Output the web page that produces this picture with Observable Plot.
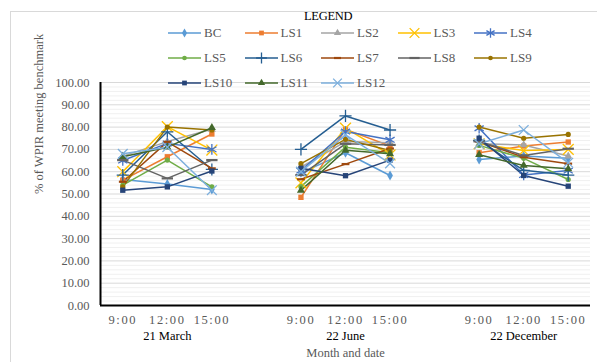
<!DOCTYPE html>
<html><head><meta charset="utf-8">
<script src="https://cdn.jsdelivr.net/npm/d3@7"></script>
<script src="https://cdn.jsdelivr.net/npm/@observablehq/plot@0.6"></script>
<style>
body{margin:0;background:#fff;}
#wrap{position:relative;width:597px;height:362px;overflow:hidden;font-family:"Liberation Serif","Times New Roman",serif;}
#box{position:absolute;left:10px;top:11px;width:700px;height:500px;border-left:1px solid #d9d9d9;border-top:1px solid #d9d9d9;}
#chart{position:absolute;left:0;top:0;}
#chart svg, #chart svg text{font-family:"Liberation Serif","Times New Roman",serif !important;}
#chart g[aria-label="x-axis tick label"] text{letter-spacing:1.6px;}
#ltitle{position:absolute;left:304px;top:9px;font-size:12.5px;color:#000;letter-spacing:-0.3px;}
#legend{position:absolute;left:168px;top:21px;display:grid;grid-template-columns:repeat(5,76.5px);grid-auto-rows:24.7px;}
.item{display:flex;align-items:center;height:24.7px;font-size:13px;color:#595959;font-family:"Liberation Serif","Times New Roman",serif;}
.item svg{flex:none;margin-right:2px;}
</style></head>
<body><div id="wrap"><div id="box"></div><div id="chart"></div><div id="ltitle">LEGEND</div><div id="legend"></div></div>
<script>
// ---- data ----
const dates = ["21 March", "22 June", "22 December"];
const times = ["9:00", "12:00", "15:00"];
const seriesNames = ["BC","LS1","LS2","LS3","LS4","LS5","LS6","LS7","LS8","LS9","LS10","LS11","LS12"];
// values: March 9,12,15 | June 9,12,15 | December 9,12,15
const BC   = [56.5, 54.5, 52.0,  59.5, 68.5, 58.3,  65.5, 67.0, 66.0];
const LS1  = [56.2, 66.7, 76.9,  48.5, 79.0, 71.5,  68.5, 71.5, 73.3];
const LS2  = [67.0, 73.5, 79.0,  62.0, 73.5, 73.0,  72.5, 72.0, 67.0];
const LS3  = [60.0, 80.2, 69.7,  55.0, 79.5, 67.5,  72.5, 69.5, 70.0];
const LS4  = [65.0, 72.7, 70.0,  60.5, 78.0, 74.3,  79.5, 58.5, 60.5];
const LS5  = [54.0, 65.2, 53.2,  53.3, 71.0, 68.5,  71.8, 66.0, 56.5];
const LS6  = [58.5, 77.9, 61.0,  70.0, 85.0, 78.7,  74.0, 60.6, 58.5];
const LS7  = [55.5, 73.4, 61.5,  56.6, 63.4, 70.4,  73.5, 66.5, 63.6];
const LS8  = [65.2, 57.0, 65.2,  58.5, 72.5, 72.0,  73.6, 67.3, 70.3];
const LS9  = [53.2, 80.0, 78.7,  63.6, 74.5, 69.5,  80.0, 75.0, 76.7];
const LS10 = [51.7, 53.2, 60.3,  61.5, 58.2, 65.2,  75.0, 58.3, 53.5];
const LS11 = [66.7, 71.0, 79.7,  51.6, 69.6, 68.0,  67.6, 62.8, 61.3];
const LS12 = [68.0, 71.0, 51.7,  60.0, 76.5, 63.7,  72.5, 78.7, 64.0];
const seriesValues = [BC,LS1,LS2,LS3,LS4,LS5,LS6,LS7,LS8,LS9,LS10,LS11,LS12];
const yTicks = d3.range(0, 101, 10);

// ---- styles ----
const colors = ["#5B9BD5","#ED7D31","#A5A5A5","#FFC000","#4472C4","#70AD47","#255E91","#9E480E","#636363","#997300","#264478","#43682B","#7CAFDD"];
const dashShort = {draw(c, s){const w=Math.sqrt(s)*0.55; c.moveTo(-w,0); c.lineTo(w,0);}};
const dashLong = {draw(c, s){const w=Math.sqrt(s)*0.8; c.moveTo(-w,0); c.lineTo(w,0);}};
const markers = [
  {symbol:"diamond", filled:true, r:3},
  {symbol:"square", filled:true, r:3},
  {symbol:"triangle", filled:true, r:3},
  {symbol:"times", filled:false, r:5},
  {symbol:"asterisk", filled:false, r:5},
  {symbol:"circle", filled:true, r:2.6},
  {symbol:"plus", filled:false, r:4},
  {symbol:dashShort, filled:false, r:4, sw:2.2},
  {symbol:dashLong, filled:false, r:4, sw:2.2},
  {symbol:"circle", filled:true, r:2.6},
  {symbol:"square", filled:true, r:3},
  {symbol:"triangle", filled:true, r:3},
  {symbol:"times", filled:false, r:4.5}
];

// index positions with a spacer between dates
const rows = [];
seriesNames.forEach((s, si) => {
  seriesValues[si].forEach((v, k) => {
    const g = Math.floor(k / 3), t = k % 3;
    rows.push({series: s, si, date: dates[g], time: times[t], i: g * 4 + t, v, key: s + "|" + g});
  });
});

const fontFam = '"Liberation Serif","Times New Roman",serif';
const plot = Plot.plot({
  width: 597, height: 362,
  marginLeft: 100, marginRight: 7, marginTop: 82, marginBottom: 57,
  style: {fontFamily: fontFam, background: "transparent"},
  x: {domain: [-0.5, 10.5], axis: null},
  y: {domain: [0, 100], axis: null},
  color: {domain: seriesNames, range: colors},
  marks: [
    Plot.ruleY(d3.range(0, 101, 2).filter(v => v % 10 !== 0), {stroke: "#f0f0f0", strokeWidth: 1}),
    Plot.ruleY(yTicks, {stroke: "#d9d9d9", strokeWidth: 1}),
    Plot.axisY({ticks: yTicks, tickFormat: d3.format(".2f"), tickSize: 0, tickPadding: 11, fontSize: 12.5, fill: "#595959", label: null}),
    Plot.axisX({ticks: [0,1,2,4,5,6,8,9,10], tickFormat: i => times[i % 4], tickSize: 0, tickPadding: 10, fontSize: 12.5, fill: "#595959", label: null}),
    Plot.text(dates, {x: (d, i) => i * 4 + 1, frameAnchor: "bottom", dy: 30, fontSize: 12.5, fill: "#000", lineAnchor: "middle"}),
    Plot.text(["Month and date"], {frameAnchor: "bottom", dy: 47, fontSize: 12.5, fill: "#595959", lineAnchor: "middle"}),
    Plot.text(["% of WPIR meeting benchmark"], {frameAnchor: "left", dx: -62, rotate: -90, fontSize: 12.5, fill: "#595959"}),
    Plot.line(rows, {x: "i", y: "v", z: "key", stroke: "series", strokeWidth: 1.5}),
    ...seriesNames.map((s, si) => {
      const m = markers[si];
      const data = rows.filter(d => d.si === si);
      return m.filled
        ? Plot.dot(data, {x: "i", y: "v", symbol: () => m.symbol, r: m.r, fill: colors[si], stroke: "none"})
        : Plot.dot(data, {x: "i", y: "v", symbol: () => m.symbol, r: m.r, fill: "none", stroke: colors[si], strokeWidth: m.sw || 1.3});
    }),
    Plot.ruleY([0], {stroke: "#000", strokeWidth: 2}),
    Plot.ruleX([-0.5], {y1: 0, y2: 100, stroke: "#000", strokeWidth: 2})
  ]
});
document.getElementById("chart").appendChild(plot);

// ---- legend ----
const leg = document.getElementById("legend");
const symMap = {diamond: d3.symbolDiamond, square: d3.symbolSquare, triangle: d3.symbolTriangle, times: d3.symbolTimes, asterisk: d3.symbolAsterisk, circle: d3.symbolCircle, plus: d3.symbolPlus};
seriesNames.forEach((s, si) => {
  const m = markers[si];
  const div = document.createElement("div");
  div.className = "item";
  const sv = d3.create("svg").attr("width", 34).attr("height", 14);
  sv.append("line").attr("x1", 0).attr("x2", 33).attr("y1", 7).attr("y2", 7).attr("stroke", colors[si]).attr("stroke-width", 1.5);
  const type = typeof m.symbol === "string" ? symMap[m.symbol] : m.symbol;
  const p = d3.symbol(type, Math.PI * m.r * m.r * 0.8)();
  sv.append("path").attr("d", p).attr("transform", "translate(16.5,7)")
    .attr("fill", m.filled ? colors[si] : "none").attr("stroke", m.filled ? "none" : colors[si]).attr("stroke-width", m.sw || 1.3);
  div.appendChild(sv.node());
  const sp = document.createElement("span");
  sp.textContent = s;
  div.appendChild(sp);
  leg.appendChild(div);
});
</script></body></html>
